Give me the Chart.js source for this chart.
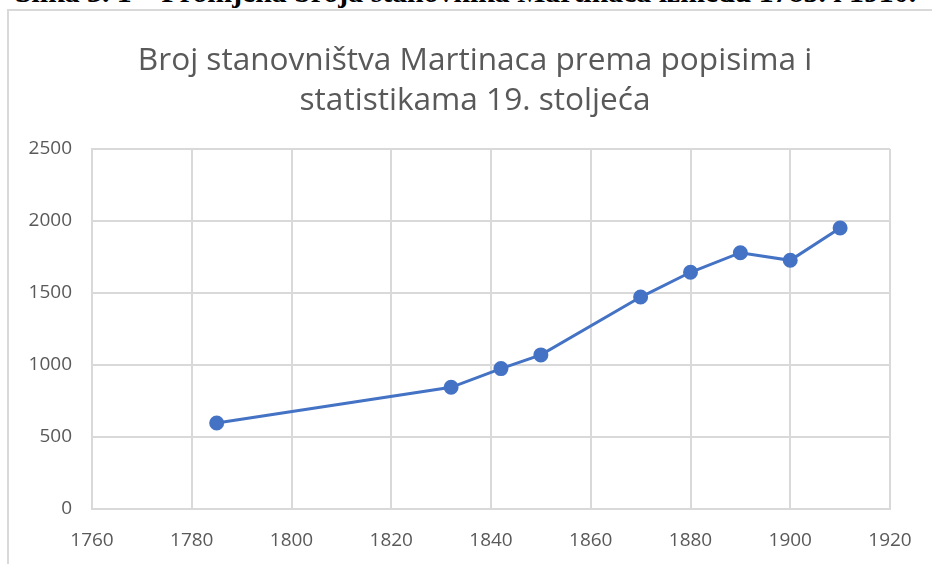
<!DOCTYPE html>
<html>
<head>
<meta charset="utf-8">
<script src="https://cdn.jsdelivr.net/npm/chart.js@4.4.1/dist/chart.umd.min.js"></script>
<style>
  html, body { margin: 0; padding: 0; background: #fff; overflow: hidden; }
  body { width: 932px; height: 564px; position: relative; }
  #caption {
    position: absolute; left: 15px; top: -22px;
    font: bold 29.8px "Liberation Serif", serif; line-height: 28px;
    white-space: nowrap; color: #000;
  }
  #box {
    position: absolute; left: 7px; top: 9px; width: 960px; height: 600px;
    border-left: 2px solid #d9d9d9; border-top: 2px solid #d9d9d9;
    background: #fff;
  }
  #wrap { position: absolute; left: 8px; top: 10px; width: 924px; height: 554px; }
  /* naslov je centriran na cijeli okvir grafikona, koji ide i izvan slike */
  #naslov {
    position: absolute; left: 0; top: 38px; width: 950px; text-align: center;
    font: 31.6px "Open Sans", sans-serif; line-height: 40px; color: #595959;
    white-space: nowrap;
  }
</style>
</head>
<body>
<div id="caption">Slika 3. 1 – Promjena broja stanovnika Martinaca između 1785. i 1910.</div>
<div id="box"></div>
<div id="wrap"><canvas id="grafica"></canvas></div>
<div id="naslov"></div>
<script>
// godine popisa i broj stanovnika
var godine = [1785, 1832, 1842, 1850, 1870, 1880, 1890, 1900, 1910];
var stanovnici = [597, 845, 975, 1070, 1472, 1644, 1780, 1727, 1951];
var naslov = ['Broj stanovništva Martinaca prema popisima i', 'statistikama 19. stoljeća'];
var xMin = 1760, xMax = 1920, xKorak = 20;
var yMin = 0, yMax = 2500, yKorak = 500;

var siva = '#595959';
var mreza = '#d9d9d9';
var plava = '#4472C4';

var naslovDiv = document.getElementById('naslov');
naslov.forEach(function (red) {
  var d = document.createElement('div');
  d.textContent = red;
  naslovDiv.appendChild(d);
});

var puntos = godine.map(function (g, i) { return { x: g, y: stanovnici[i] }; });

var ctx = document.getElementById('grafica').getContext('2d');
new Chart(ctx, {
  type: 'line',
  data: {
    datasets: [{
      label: 'Broj stanovnika',
      data: puntos,
      borderColor: plava,
      backgroundColor: plava,
      borderWidth: 3,
      pointRadius: 6,
      pointHoverRadius: 6,
      tension: 0
    }]
  },
  options: {
    responsive: true,
    maintainAspectRatio: false,
    animation: false,
    layout: { padding: { top: 139, right: 42, bottom: 0, left: 0 } },
    plugins: {
      legend: { display: false },
      tooltip: { enabled: false },
      title: { display: false }
    },
    scales: {
      x: {
        type: 'linear',
        min: xMin, max: xMax,
        afterFit: function (s) { s.height = 55; },
        grid: { color: mreza, lineWidth: 2, drawTicks: false },
        border: { color: mreza, width: 2 },
        ticks: {
          stepSize: xKorak, padding: 20, color: siva,
          font: { family: 'Open Sans', size: 19 },
          callback: function (v) { return v; }
        }
      },
      y: {
        min: yMin, max: yMax,
        afterFit: function (s) { s.width = 84; },
        grid: { color: mreza, lineWidth: 2, drawTicks: false },
        border: { color: mreza, width: 2 },
        ticks: {
          stepSize: yKorak, padding: 20, color: siva,
          font: { family: 'Open Sans', size: 19 },
          callback: function (v) { return v; }
        }
      }
    }
  }
});
</script>
</body>
</html>
